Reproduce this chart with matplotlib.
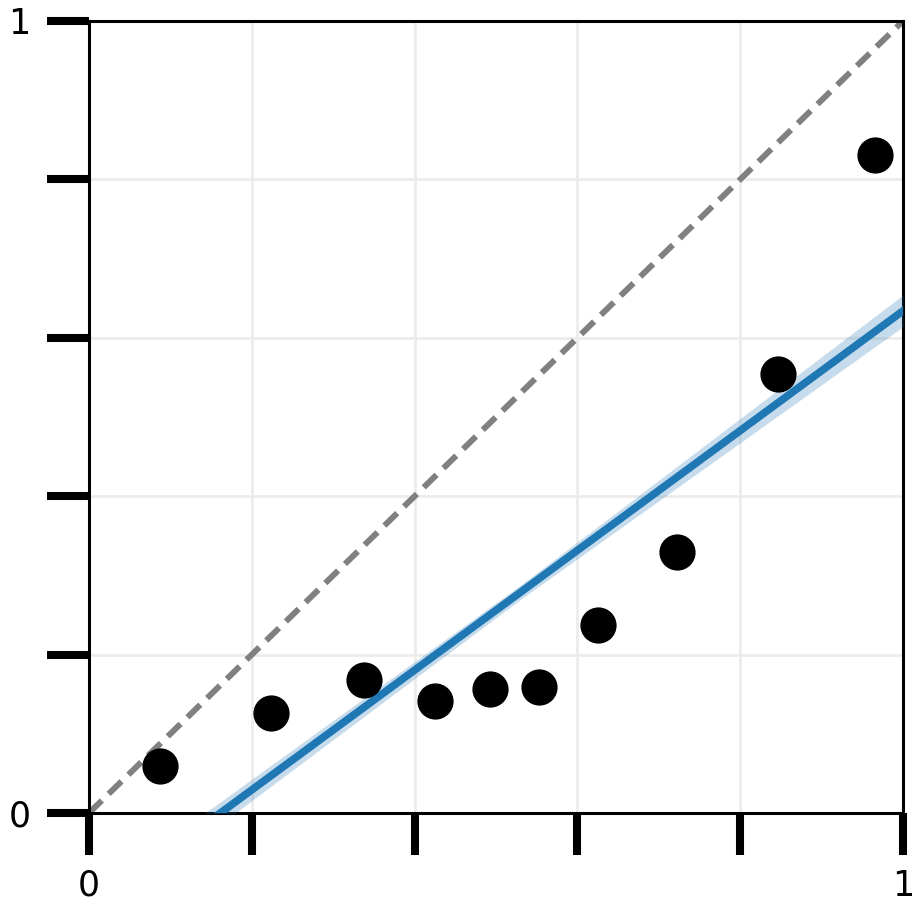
import matplotlib
matplotlib.use("Agg")
import matplotlib.pyplot as plt
import numpy as np

# Data
pred_x = [0.087, 0.224, 0.338, 0.425, 0.493, 0.553, 0.625, 0.722, 0.846, 0.966]
obs_y = [0.059, 0.126, 0.168, 0.142, 0.156, 0.159, 0.238, 0.330, 0.554, 0.831]
fit_x = [0.0, 1.0]
fit_y = [-0.122, 0.634]
band_x = [0.0, 0.16, 0.53, 1.0]
band_half = [0.018, 0.014, 0.009, 0.020]
diag = [0.0, 1.0]
tick_vals = [0.0, 0.2, 0.4, 0.6, 0.8, 1.0]
tick_labels = ["0", "", "", "", "", "1"]

fig = plt.figure(figsize=(9.21, 9.16), dpi=100)
ax = fig.add_axes([89/921, 1-813/916, (903-89)/921, (813-21)/916])

ax.grid(True, color="#ececec", linewidth=2, zorder=0)
ax.plot(diag, diag, linestyle=(0, (3, 1.6)), color="gray", linewidth=4.3, zorder=2)

xs = np.linspace(0, 1, 101)
line = np.interp(xs, fit_x, fit_y)
half = np.interp(xs, band_x, band_half)
ax.fill_between(xs, line - half, line + half, color="#1f77b4", alpha=0.25,
                linewidth=0, zorder=3)
ax.plot(xs, line, color="#1f77b4", linewidth=5.5, zorder=4)

ax.scatter(pred_x, obs_y, s=680, color="black", zorder=5, linewidths=0)

ax.set_xlim(0, 1)
ax.set_ylim(0, 1)
ax.set_xticks(tick_vals)
ax.set_xticklabels(tick_labels)
ax.set_yticks(tick_vals)
ax.set_yticklabels(tick_labels)
ax.tick_params(axis="both", length=30, width=5.8, labelsize=25, pad=10,
               direction="out", color="black")
ax.tick_params(axis="y", pad=12)
for sp in ax.spines.values():
    sp.set_linewidth(2.2)
    sp.set_color("black")

fig.savefig("out.png", dpi=100)
